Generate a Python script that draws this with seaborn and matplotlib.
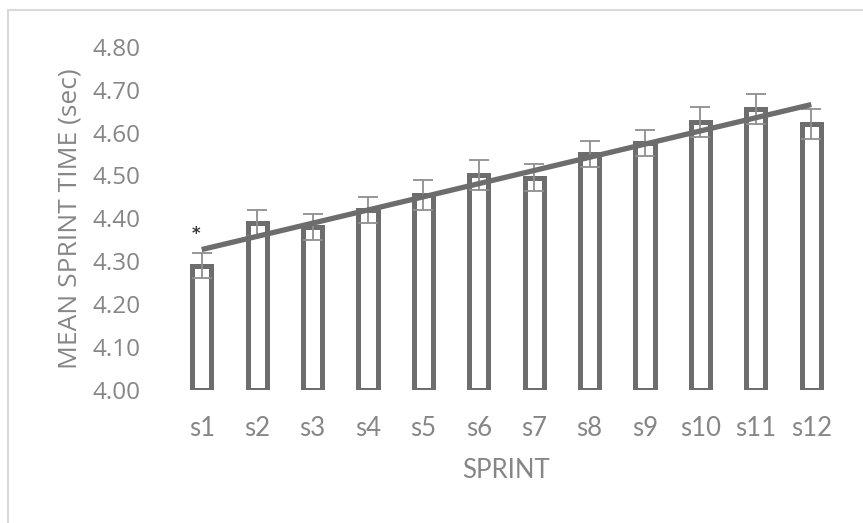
import numpy as np
import pandas as pd
import matplotlib
matplotlib.use("Agg")
import matplotlib.pyplot as plt
from matplotlib.patches import Rectangle
import seaborn as sns

# Mean sprint time per repeated sprint, with standard errors
sprints = ["s1", "s2", "s3", "s4", "s5", "s6", "s7", "s8", "s9", "s10", "s11", "s12"]
mean_time = [4.29, 4.39, 4.38, 4.42, 4.455, 4.50, 4.495, 4.55, 4.575, 4.625, 4.655, 4.62]
std_err = [0.03, 0.03, 0.03, 0.03, 0.035, 0.035, 0.032, 0.03, 0.03, 0.035, 0.035, 0.035]
y_ticks = [4.00, 4.10, 4.20, 4.30, 4.40, 4.50, 4.60, 4.70, 4.80]
axis_floor = 4.00

df = pd.DataFrame({"sprint": sprints, "time": mean_time, "se": std_err})

sns.set_theme(style="white")
plt.rcParams["font.family"] = ["Open Sans", "DejaVu Sans"]

BAR = "#6d6d6d"
TEXT = "#868686"
ERR = "#8f8f8f"

fig = plt.figure(figsize=(8.63, 5.23), dpi=100)
ax = fig.add_axes([174 / 863, 133 / 523, 665 / 863, 343.3 / 523])

sns.barplot(data=df, x="sprint", y="time", order=sprints, fill=False,
            color=BAR, width=0.345, linewidth=3.6, errorbar=None, ax=ax)

# bars rise from the axis floor, as in the spreadsheet chart
for patch, val in zip(ax.patches, df["time"]):
    patch.set_y(axis_floor)
    patch.set_height(val - axis_floor)
    patch.set_edgecolor(BAR)
    patch.set_joinstyle("miter")

pos = np.arange(len(sprints))
ax.errorbar(pos, df["time"], yerr=df["se"], fmt="none", ecolor=ERR,
            elinewidth=1.3, capsize=7.5, capthick=1.3, zorder=3)

# linear trend through the sprint means
slope, intercept = np.polyfit(pos, df["time"], 1)
ax.plot(pos, intercept + slope * pos, color=BAR, lw=3.8,
        solid_capstyle="butt", zorder=4)

# significance marker above the first sprint
ax.text(pos[0] - 0.1, df["time"][0] + 0.074, "*", ha="center", va="center",
        fontsize=12, fontweight="bold", color="#3a3a3a", family="DejaVu Sans")

ax.set_xlim(-0.5, len(sprints) - 0.5)
ax.set_ylim(4.0, 4.8)
ax.set_yticks(y_ticks)
ax.set_yticklabels([f"{t:.2f}" for t in y_ticks])
for s in ax.spines.values():
    s.set_visible(False)
ax.tick_params(axis="y", length=0, pad=24, labelsize=17.5, labelcolor=TEXT)
ax.tick_params(axis="x", length=0, pad=19, labelsize=18.5, labelcolor=TEXT)
for lab in ax.get_xticklabels():
    lab.set_family(["Lato", "DejaVu Sans"])

ax.set_xlabel("SPRINT", fontsize=18.5, color=TEXT, family=["Lato", "DejaVu Sans"],
              labelpad=12)
ax.set_ylabel("MEAN SPRINT TIME (sec)", fontsize=19, color=TEXT, labelpad=7)

# chart area frame
fig.patches.append(Rectangle((8 / 863, -0.1), 1.1, 1 - 10 / 523 + 0.1,
                             transform=fig.transFigure, fill=False,
                             edgecolor="#d9d9d9", lw=1.5))

fig.savefig("out.png", dpi=100)
